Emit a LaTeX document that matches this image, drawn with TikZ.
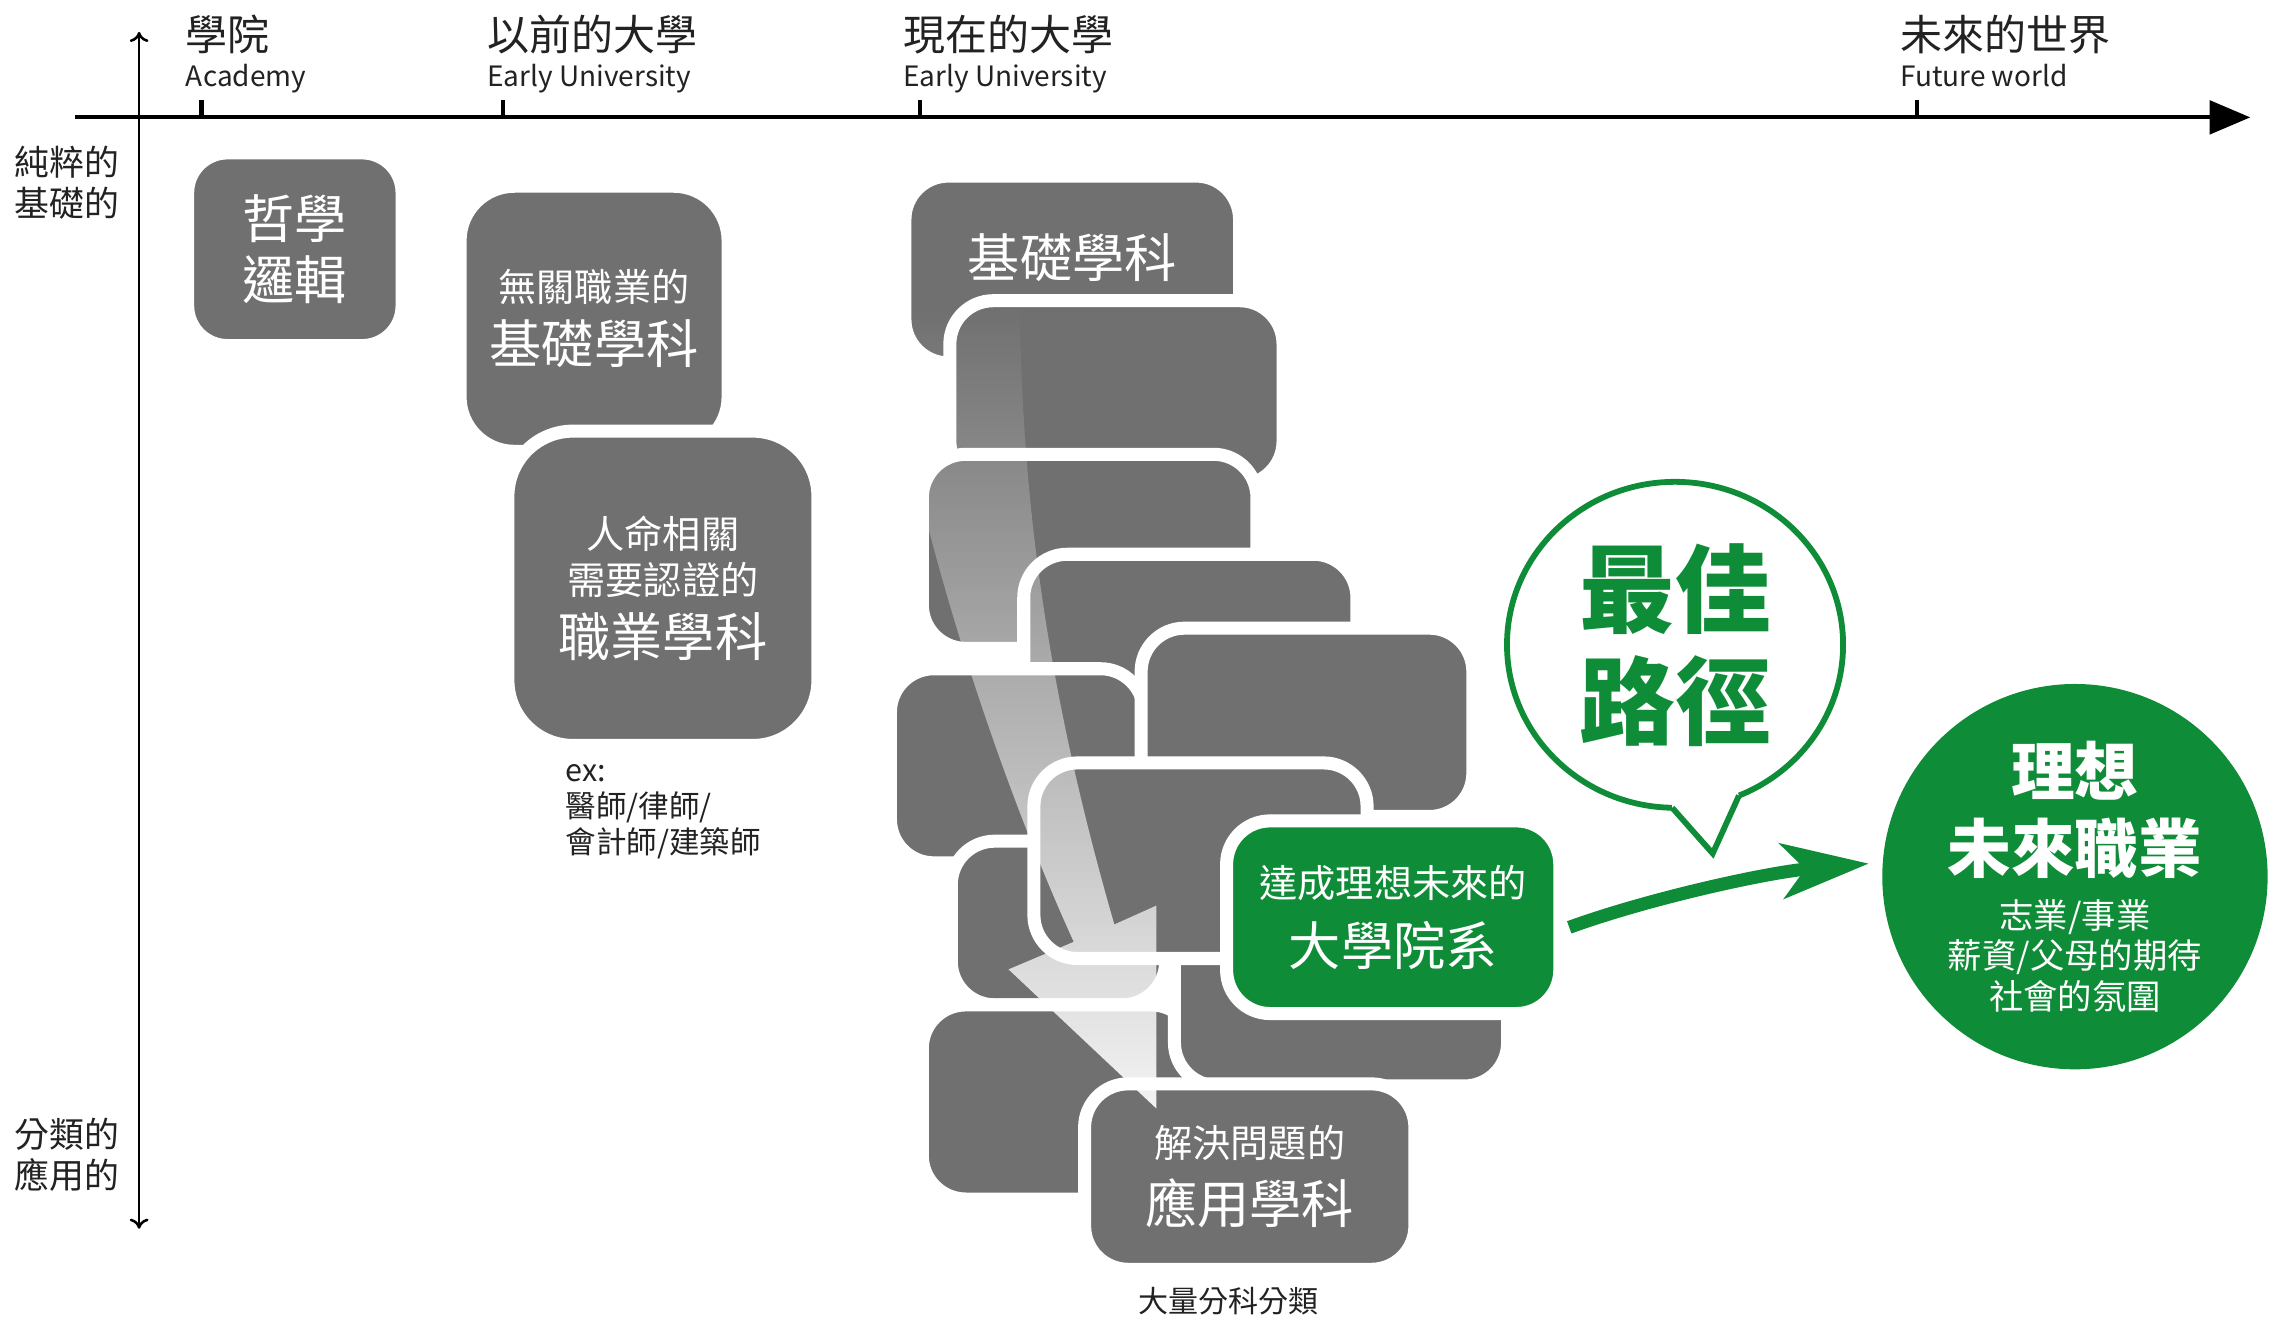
\documentclass[tikz,border=0pt]{standalone}
\usepackage{fontspec}
\setmainfont{Noto Sans CJK TC}
\usetikzlibrary{arrows.meta,shapes.geometric,calc,fadings}
\definecolor{tilegray}{HTML}{707070}
\definecolor{pathgreen}{HTML}{0F8C37}
\definecolor{inkgray}{HTML}{222222}
\tikzfading[name=fadedown, top color=transparent!100, bottom color=transparent!8]

\begin{document}
\begin{tikzpicture}[x=0.02cm, y=-0.02cm]
	\tikzset{>=stealth,
		tile/.style={draw=white, line width=0.18cm, fill=tilegray, rounded corners=0.6cm,
			text=white, align=center, inner sep=0pt, font=\fontsize{15}{18}\selectfont},
		caption/.style={text=inkgray, align=center, inner sep=0pt},
		head/.style={text=inkgray, anchor=north west, align=left, inner sep=0pt, font=\fontsize{11}{14}\selectfont}}
	\newcommand \TileBig{\fontsize{20.5}{24}\selectfont}
	\newcommand \HeadCJK{\fontsize{16.5}{19}\selectfont}
	\newcommand \CircBig{\bfseries\fontsize{25}{30}\selectfont}

	\useasboundingbox (0,0) rectangle (1568,910);

	% axes
	\draw[line width=0.055cm, -{Stealth[length=0.56cm, width=0.46cm, inset=0pt]}] (52,81) -- (1553,81);
	\draw[line width=0.035cm, {To[length=0.14cm, width=0.26cm]}-{To[length=0.14cm, width=0.26cm]}] (96,22) -- (96,848);
	\draw[line width=0.06cm] (139,69) -- (139,81);
	\draw[line width=0.06cm] (347,69) -- (347,81);
	\draw[line width=0.06cm] (635,69) -- (635,81);
	\draw[line width=0.06cm] (1323,69) -- (1323,81);

	\node[head] (academy) at (128,10) {{\HeadCJK 學院}\\Academy};
	\node[head] (early) at (336,10) {{\HeadCJK 以前的大學}\\Early University};
	\node[head] (present) at (623,10) {{\HeadCJK 現在的大學}\\Early University};
	\node[head] (future) at (1311,10) {{\HeadCJK 未來的世界}\\Future world};

	\node[caption, font=\fontsize{13.7}{16}\selectfont] (pure) at (46,126) {純粹的\\基礎的};
	\node[caption, font=\fontsize{13.7}{16}\selectfont] (applyside) at (46,797) {分類的\\應用的};

	% academy and early university
	\node[tile, rounded corners=0.55cm, minimum width=2.96cm, minimum height=2.66cm, font=\TileBig] (philo) at (203.5,172) {哲學\\邏輯};
	\node[tile, rounded corners=0.75cm, minimum width=3.7cm, minimum height=3.66cm] (general) at (410,220) {無關職業的\\[5pt]{\TileBig 基礎學科}};
	\node[tile, rounded corners=0.9cm, minimum width=4.28cm, minimum height=4.34cm] (licensed) at (457.5,406) {人命相關\\需要認證的\\[5pt]{\TileBig 職業學科}};
	\node[caption, anchor=west, align=left, font=\fontsize{12}{14.2}\selectfont] (examples) at (390,560) {ex:\\醫師/律師/\\會計師/建築師};

	% present university
	\node[tile, minimum width=4.62cm, minimum height=2.58cm] (basic) at (740,186) {};
	\node[text=white, inner sep=0pt, font=\TileBig] (basiclabel) at (740,178) {基礎學科};
	\node[tile, minimum width=4.6cm, minimum height=2.54cm] (layer1) at (770.5,271) {};
	\node[tile, minimum width=4.62cm, minimum height=2.68cm] (layer2) at (752,380.5) {};
	\node[tile, minimum width=4.6cm, minimum height=2.44cm] (layer3) at (821.5,443.5) {};
	\node[tile, minimum width=3.5cm, minimum height=2.68cm] (layer4) at (702,528.5) {};
	\node[tile, minimum width=4.58cm, minimum height=2.6cm] (layer5) at (902,498.5) {};
	\node[tile, minimum width=2.96cm, minimum height=2.26cm] (layer6) at (730.5,637) {};
	\node[tile, minimum width=3.76cm, minimum height=2.68cm] (layer7) at (730.5,760.5) {};
	\node[tile, minimum width=4.6cm, minimum height=3.08cm] (layer8) at (925.5,672.5) {};
	\node[tile, minimum width=4.6cm, minimum height=2.7cm] (layer9) at (828.5,594) {};
	\node[tile, fill=pathgreen, minimum width=4.6cm, minimum height=2.66cm] (dept) at (961.5,633) {達成理想未來的\\[7pt]{\TileBig 大學院系}};
	\node[tile, minimum width=4.56cm, minimum height=2.56cm] (applied) at (862.5,812) {解決問題的\\[6pt]{\TileBig 應用學科}};
	\node[caption, font=\fontsize{11.8}{14}\selectfont] (many) at (848,898) {大量分科分類};

	\fill[white, path fading=fadedown] (608,215) .. controls (640,400) and (700,560) .. (741,650)
		-- (696,669) -- (798,765) -- (798,625) -- (769,638) .. controls (735,520) and (705,380) .. (704,212) -- cycle;

	% future
	\node[ellipse, draw=pathgreen, line width=0.08cm, fill=white, minimum width=4.64cm, minimum height=4.5cm,
		inner sep=0pt, outer sep=0pt, text=pathgreen, align=center, font=\bfseries\fontsize{37.6}{44}\selectfont] (best) at (1156,445) {最佳\\路徑};
	\coordinate (bubtip) at (1182,589);
	\fill[white] (best.-91) -- (bubtip) -- (best.-67) -- ($(best.-67)!0.08!(best.center)$) -- ($(best.-91)!0.08!(best.center)$) -- cycle;
	\draw[pathgreen, line width=0.08cm] (best.-91) -- (bubtip) -- (best.-67);

	\node[circle, fill=pathgreen, minimum size=5.32cm, inner sep=0pt, text=white, align=center,
		font=\fontsize{13.5}{16}\selectfont] (career) at (1432,605)
		{{\CircBig 理想}\\[6pt]{\CircBig 未來職業}\\[6pt]志業/事業\\薪資/父母的期待\\社會的氛圍};

	\draw[pathgreen, line width=0.18cm, -{Stealth[length=1.2cm, width=0.76cm, inset=0.32cm]}]
		([shift={(2,7)}]dept.east) .. controls +(55,-20) and +(-70,6) .. ([shift={(-9,-9)}]career.west);
\end{tikzpicture}
\end{document}
